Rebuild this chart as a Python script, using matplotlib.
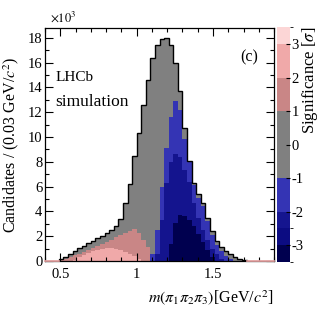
import numpy as np
import matplotlib
matplotlib.use("Agg")
import matplotlib.pyplot as plt
from matplotlib.colors import ListedColormap, BoundaryNorm
import matplotlib.colorbar as mcolorbar
from matplotlib.ticker import MultipleLocator

plt.rcParams['font.family'] = ['Liberation Serif', 'DejaVu Serif']
plt.rcParams['mathtext.fontset'] = 'stix'

# ---- data (bins of 0.03 GeV from 0.40 to 1.90), counts ----
edges = np.round(np.arange(0.40, 1.9001, 0.03), 3)
total = [0, 0, 0, 150, 350, 560, 800, 1050, 1250, 1450,
         1650, 1850, 2050, 2250, 2500, 2800, 3400, 4700, 6200, 8500,
         10300, 12600, 14600, 16400, 17400, 17900, 18000, 17400, 16000, 13700,
         10700, 8100, 6300, 5400, 4700, 3500, 2400, 1650, 1150, 830,
         560, 350, 200, 100, 0, 0, 0, 0, 0, 0]
sig_1to2 = [0, 0, 0, 100, 200, 300, 450, 600, 750, 900,
            1050, 1200, 1350, 1500, 1700, 1900, 2100, 2300, 2450, 2550,
            2300, 1700, 1100, 0, 0, 0, 0, 0, 0, 0,
            0, 0, 0, 0, 0, 0, 0, 0, 0, 0,
            0, 0, 0, 0, 0, 0, 0, 0, 0, 0]
sig_2to3 = [0, 0, 0, 0, 0, 0, 100, 300, 500, 650,
            800, 900, 1000, 1050, 1050, 1000, 900, 750, 600, 400,
            150, 0, 0, 0, 0, 0, 0, 0, 0, 0,
            0, 0, 0, 0, 0, 0, 0, 0, 0, 0,
            0, 0, 0, 0, 0, 0, 0, 0, 0, 0]
sig_m1 = [0, 0, 0, 0, 0, 0, 0, 0, 0, 0,
          0, 0, 0, 0, 0, 0, 0, 0, 0, 0,
          0, 0, 0, 600, 2500, 6000, 9100, 11600, 12900, 12200,
          9800, 8000, 6100, 5100, 4400, 3200, 2100, 1300, 800, 400,
          150, 0, 0, 0, 0, 0, 0, 0, 0, 0]
sig_m2 = [0, 0, 0, 0, 0, 0, 0, 0, 0, 0,
          0, 0, 0, 0, 0, 0, 0, 0, 0, 0,
          0, 0, 0, 0, 600, 3300, 6300, 8000, 8600, 8400,
          7300, 6400, 4700, 3500, 2500, 1700, 1000, 600, 200, 0,
          0, 0, 0, 0, 0, 0, 0, 0, 0, 0]
sig_m3 = [0, 0, 0, 0, 0, 0, 0, 0, 0, 0,
          0, 0, 0, 0, 0, 0, 0, 0, 0, 0,
          0, 0, 0, 0, 0, 0, 0, 1400, 3100, 3700,
          3600, 3300, 2800, 2200, 1500, 900, 350, 0, 0, 0,
          0, 0, 0, 0, 0, 0, 0, 0, 0, 0]

cb_bounds = [-3.5, -3, -2.5, -2, -1, 1, 2, 3, 3.5]
cb_colors = ['#00004f', '#0c0c82', '#15158f', '#3434b4',
             '#808080', '#c98686', '#f0a9a9', '#fcd6d6']

C_GRAY, C_ROSY, C_PINK = '#808080', '#c98686', '#f0a9a9'
C_BLUE, C_MID, C_NAVY = '#3434b4', '#14148e', '#00004f'

fig = plt.figure(figsize=(3.24, 3.13), dpi=100)
ax = fig.add_axes([0.139, 0.166, 0.707, 0.745])

k = 1000.0
def st(vals, color, **kw):
    ax.stairs(np.array(vals) / k, edges, fill=True, color=color, lw=0, **kw)

st(total, C_GRAY)
st(sig_1to2, C_ROSY)
st(sig_2to3, C_PINK)
st(sig_m1, C_BLUE)
st(sig_m2, C_MID)
st(sig_m3, C_NAVY)
ax.stairs(np.array(total) / k, edges, fill=False, color='black', lw=1.0)
ax.plot([0.40, 0.49], [0.03, 0.03], color=C_PINK, lw=1.2, zorder=5, clip_on=False)
ax.plot([1.72, 1.90], [0.03, 0.03], color=C_PINK, lw=1.2, zorder=5, clip_on=False)

ax.set_xlim(0.40, 1.90)
ax.set_ylim(0, 18.8)
ax.set_xticks([0.5, 1.0, 1.5])
ax.set_xticklabels(['0.5', '1', '1.5'])
ax.xaxis.set_minor_locator(MultipleLocator(0.1))
ax.set_yticks(range(0, 19, 2))
ax.yaxis.set_minor_locator(MultipleLocator(1))
ax.tick_params(which='both', direction='in', top=True, right=True, labelsize=10.5, width=0.8)
ax.tick_params(which='major', length=6)
ax.tick_params(which='minor', length=3)
ax.tick_params(axis='x', pad=5)
ax.tick_params(axis='y', pad=2)
for s in ax.spines.values():
    s.set_linewidth(0.9)

ax.set_ylabel('Candidates / (0.03 GeV/$c^2$)', fontsize=11.5, labelpad=5)
ax.set_xlabel(r'$m(\pi_1\pi_2\pi_3)$[GeV/$c^2$]', fontsize=11.5, loc='right', labelpad=5)
ax.text(0.02, 1.012, r'$\times10^3$', transform=ax.transAxes, fontsize=9, ha='left', va='bottom')
ax.text(0.045, 0.785, 'LHCb', transform=ax.transAxes, fontsize=11, ha='left', va='center')
ax.text(0.045, 0.68, 'simulation', transform=ax.transAxes, fontsize=12.5, ha='left', va='center')
ax.text(0.93, 0.875, '(c)', transform=ax.transAxes, fontsize=11.5, ha='right', va='center')

cax = fig.add_axes([0.855, 0.163, 0.040, 0.75])
cmap = ListedColormap(cb_colors)
norm = BoundaryNorm(cb_bounds, cmap.N)
cb = mcolorbar.ColorbarBase(cax, cmap=cmap, norm=norm, boundaries=cb_bounds,
                            ticks=[-3, -2, -1, 0, 1, 2, 3], spacing='proportional')
cb.outline.set_visible(False)
cax.tick_params(direction='in', length=3, labelsize=10.5, pad=1, width=0.8)
cax.set_yticklabels(['-3', '-2', '-1', '0', '1', '2', '3'])
fig.text(0.958, 0.915, r'Significance [$\sigma$]', fontsize=12, rotation=90,
         ha='center', va='top')

fig.savefig('out.png', dpi=100)
